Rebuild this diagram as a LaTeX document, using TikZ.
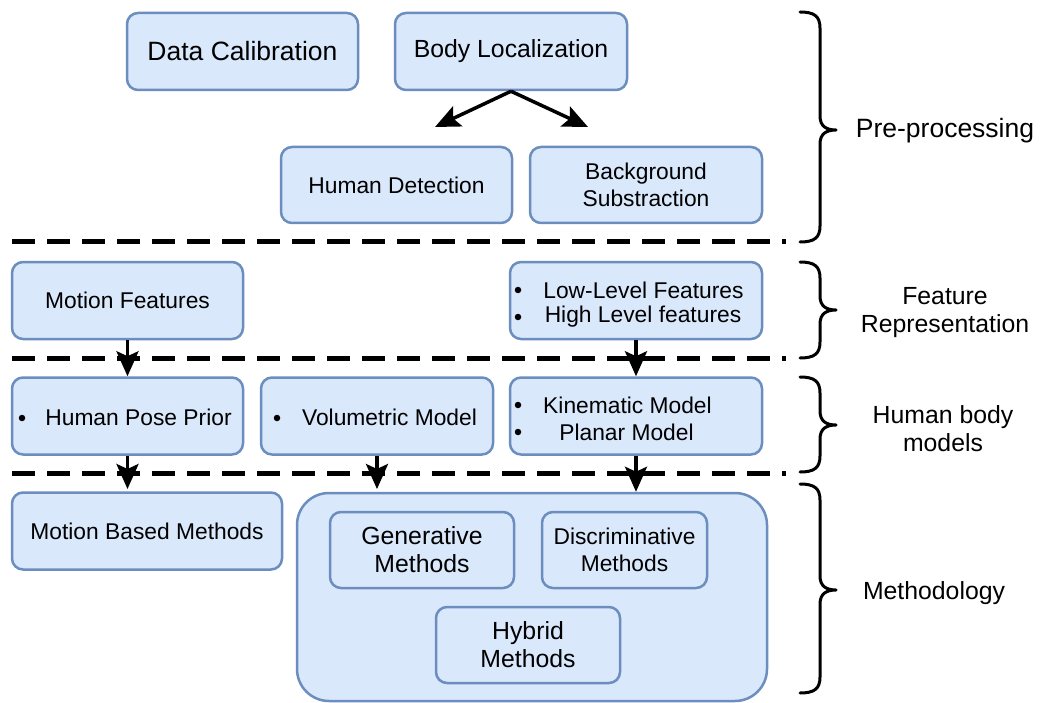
\documentclass[tikz,border=0pt]{standalone}
\usepackage{fontspec}
\setmainfont{Liberation Sans}
\usetikzlibrary{arrows.meta}
\definecolor{boxfill}{HTML}{DAE8FC}
\definecolor{boxline}{HTML}{6C8EBF}
\newcommand\txtA{\fontsize{22.8pt}{26.5pt}\selectfont}
\newcommand\txtB{\fontsize{24.8pt}{28pt}\selectfont}
\newcommand\txtC{\fontsize{26.5pt}{30pt}\selectfont}
% curly brace on the right: top y, tip y, bottom y
\newcommand\sidebrace[3]{%
  \draw[brc] (800,#1) .. controls (814,#1) and (820,#1+4) .. (820,#1+16)
    -- (820,#2-14) .. controls (820,#2-4) and (826,#2) .. (836,#2)
    .. controls (826,#2) and (820,#2+4) .. (820,#2+14)
    -- (820,#3-16) .. controls (820,#3-4) and (814,#3) .. (800,#3);}
\tikzset{
  box/.style={draw=boxline, fill=boxfill, line width=2.5pt, rounded corners=11pt,
    inner sep=0pt, align=center, font=\txtA},
  lbl/.style={inner sep=0pt, align=center, font=\txtA},
  bul/.style={circle, fill=black, inner sep=0pt, minimum size=6.5pt},
  flow/.style={line width=3.5pt, -{Stealth[length=25pt,width=22pt,inset=5pt]}},
  sep/.style={line width=5pt, dash pattern=on 23pt off 12pt},
  brc/.style={line width=3pt, line cap=round, line join=round},
}
\begin{document}
\begin{tikzpicture}[x=1pt,y=-1pt]
\useasboundingbox (0,0) rectangle (1043,703);

% pre-processing
\node[box, minimum width=231pt, minimum height=77pt, font=\txtC] (dc) at (242.5,51.5) {Data Calibration};
\node[box, minimum width=232pt, minimum height=77pt, font=\txtB] (bl) at (511,51.5) {Body Localization};
\node[box, minimum width=231pt, minimum height=76pt] (hd) at (396.5,185) {Human Detection};
\node[box, minimum width=232pt, minimum height=76pt] (bs) at (646,185) {Background\\Substraction};
\coordinate (hdtip) at (435,127);
\coordinate (bstip) at (588,127);
\draw[flow] (bl.south) -- (hdtip);
\draw[flow] (bl.south) -- (bstip);

% feature representation
\node[box, minimum width=231pt, minimum height=77pt] (mf) at (127.5,300.5) {Motion Features};
\node[box, minimum width=252pt, minimum height=77pt] (ll) at (636,300.5) {};
\node[bul] (llb1) at (518,290) {};
\node[bul] (llb2) at (518,317) {};
\node[lbl] (llt1) at (643.5,290) {Low-Level Features};
\node[lbl] (llt2) at (643,317) {High Level features};

% human body models
\node[box, minimum width=231pt, minimum height=77pt] (hp) at (127.5,416) {};
\node[bul] (hpb) at (22,418) {};
\node[lbl] (hpt) at (138.5,417) {Human Pose Prior};
\node[box, minimum width=232pt, minimum height=77pt] (vm) at (377,416) {};
\node[bul] (vmb) at (277,418) {};
\node[lbl] (vmt) at (389.5,417) {Volumetric Model};
\node[box, minimum width=252pt, minimum height=77pt] (km) at (636,416) {};
\node[bul] (kmb1) at (518,405) {};
\node[bul] (kmb2) at (518,432) {};
\node[lbl] (kmt1) at (627.5,405) {Kinematic Model};
\node[lbl] (kmt2) at (626.5,432) {Planar Model};

% methodology
\node[box, minimum width=270pt, minimum height=77pt] (mb) at (147,531) {Motion Based Methods};
\node[box, rounded corners=32pt, minimum width=470pt, minimum height=208pt] (meth) at (532,597) {};
\node[box, minimum width=184pt, minimum height=76pt, font=\txtB] (gm) at (422,550) {Generative\\Methods};
\node[box, minimum width=165pt, minimum height=76pt] (dm) at (624.5,550) {Discriminative\\Methods};
\node[box, minimum width=184pt, minimum height=76pt, font=\txtB] (hm) at (528,645) {Hybrid\\Methods};

% layer separators
\draw[sep] (12,242) -- (786,242);
\draw[sep] (12,358) -- (786,358);
\draw[sep] (12,473) -- (786,473);

% flow between layers
\draw[flow] (mf.south) -- (hp.north);
\draw[flow] (ll.south) -- (km.north);
\coordinate (mbtop) at (127.5,489);
\coordinate (vmtip) at (377,489);
\draw[flow] (hp.south) -- (mbtop);
\draw[flow] (vm.south) -- (vmtip);
\draw[flow] (km.south) -- (meth.north -| km.south);

% layer braces and names
\sidebrace{12}{130}{242}
\sidebrace{262}{310}{358}
\sidebrace{377}{425}{472}
\sidebrace{484}{590}{693}
\node[lbl, font=\txtC] (pre) at (945,131) {Pre-processing};
\node[lbl, font=\txtB] (fr) at (945,313) {Feature\\Representation};
\node[lbl, font=\txtB] (hb) at (943,429) {Human body\\models};
\node[lbl, font=\txtB] (me) at (934,593) {Methodology};
\end{tikzpicture}
\end{document}
